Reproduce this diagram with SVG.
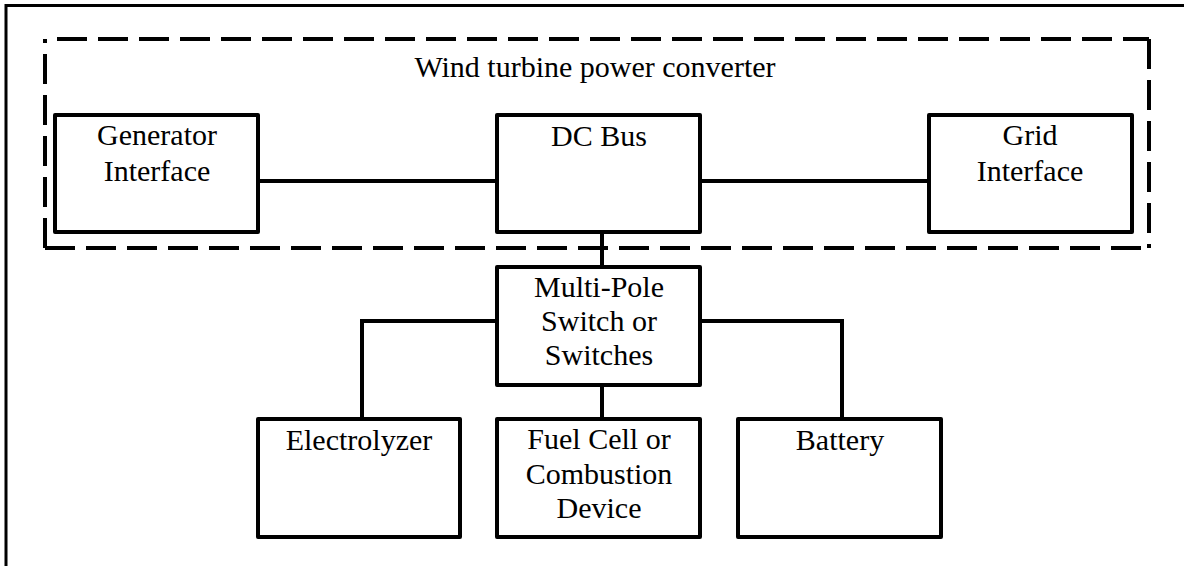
<svg xmlns="http://www.w3.org/2000/svg" width="1184" height="566" viewBox="0 0 1184 566">
<style>
.box{fill:#fff;stroke:#000;stroke-width:4;stroke-linejoin:round}
.wire{fill:none;stroke:#000;stroke-width:4}
.frame{fill:none;stroke:#000;stroke-width:3}
.dash{fill:none;stroke:#000;stroke-width:4;stroke-dasharray:30 11}
text{font-family:'Liberation Serif','Times New Roman',Times,'DejaVu Serif',serif;font-size:30px;fill:#000;text-anchor:middle}
</style>
<rect width="1184" height="566" fill="#fff"/>
<path class="frame" d="M6,566 V5.5 H1184"/>
<g id="converter">
<path class="dash" d="M45,248 V39"/>
<path class="dash" d="M57,39 H1149"/>
<path class="dash" d="M1149,39 V248"/>
<path class="dash" d="M45,248 H1149"/>
<text x="595" y="77" font-family="Liberation Serif, serif">Wind turbine power converter</text>
</g>
<g id="connectors">
<path class="wire" d="M258,181 H497"/>
<path class="wire" d="M700,181 H929"/>
<path class="wire" d="M602,232 V267"/>
<path class="wire" d="M497,321 H362 V419"/>
<path class="wire" d="M700,321 H842 V419"/>
<path class="wire" d="M602,385 V419"/>
</g>
<g id="generator">
<rect class="box" x="55" y="115" width="203" height="117"/>
<text x="157" y="145">Generator</text>
<text x="157" y="181">Interface</text>
</g>
<g id="dcbus">
<rect class="box" x="497" y="115" width="203" height="117"/>
<text x="599" y="146">DC Bus</text>
</g>
<g id="grid">
<rect class="box" x="929" y="115" width="203" height="117"/>
<text x="1030" y="145">Grid</text>
<text x="1030" y="181">Interface</text>
</g>
<g id="switch">
<rect class="box" x="497" y="267" width="203" height="118"/>
<text x="599" y="297">Multi-Pole</text>
<text x="599" y="331">Switch or</text>
<text x="599" y="365">Switches</text>
</g>
<g id="electrolyzer">
<rect class="box" x="258" y="419" width="202" height="118"/>
<text x="359" y="450">Electrolyzer</text>
</g>
<g id="fuelcell">
<rect class="box" x="497" y="419" width="203" height="118"/>
<text x="599" y="449">Fuel Cell or</text>
<text x="599" y="484">Combustion</text>
<text x="599" y="518">Device</text>
</g>
<g id="battery">
<rect class="box" x="738" y="419" width="203" height="118"/>
<text x="840" y="450">Battery</text>
</g>
</svg>
